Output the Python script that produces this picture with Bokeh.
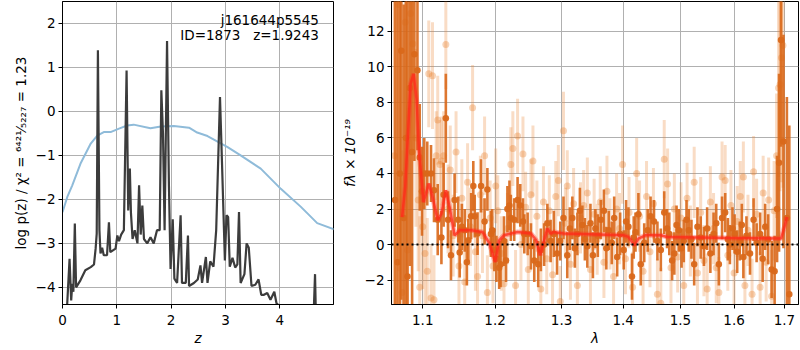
from bokeh.plotting import figure
from bokeh.layouts import row
from bokeh.models import Range1d, FixedTicker, Label, Span, PrintfTickFormatter
from bokeh.embed import file_html
from bokeh.resources import INLINE

# ---------------- left panel data: log p(z) ----------------
z_pz = [0.0, 0.086, 0.13, 0.16, 0.18, 0.20, 0.227, 0.25, 0.33, 0.42, 0.52, 0.58, 0.61, 0.63, 0.652,
        0.68, 0.70, 0.73, 0.76, 0.82, 0.855, 0.88, 0.977, 1.01, 1.04, 1.08, 1.13, 1.18, 1.21, 1.24,
        1.26, 1.29, 1.33, 1.38, 1.41, 1.44, 1.47, 1.50, 1.56, 1.62, 1.68, 1.74, 1.79, 1.82, 1.85,
        1.88, 1.925, 1.96, 1.99, 2.03, 2.06, 2.11, 2.175, 2.20, 2.27, 2.31, 2.33, 2.42, 2.49, 2.54,
        2.57, 2.64, 2.67, 2.72, 2.78, 2.83, 2.90, 2.94, 2.99, 3.02, 3.05, 3.08, 3.13, 3.18, 3.22,
        3.25, 3.28, 3.35, 3.39, 3.43, 3.48, 3.55, 3.61, 3.66, 3.71, 3.77, 3.83, 3.90, 3.94, 3.99,
        4.05, 4.60, 4.65, 4.68, 4.99]
logpz = [-6.0, -4.39, -3.35, -4.3, -3.92, -4.1, -2.55, -4.0, -3.84, -3.61, -3.54, -3.48, -3.12, -2.78, 1.39,
         -2.7, -3.23, -3.1, -3.27, -3.27, -2.52, -3.2, -3.12, -2.82, -2.95, -2.8, -2.7, 0.93, -2.25, -1.30,
         -2.3, -2.9, -2.7, -3.0, -1.68, -2.8, -2.14, -2.9, -3.0, -2.86, -3.0, -2.7, -2.7, 0.48, -0.5,
         -2.7, 1.60, -1.7, -3.58, -2.45, -3.8, -3.9, -2.36, -3.9, -3.9, -2.82, -3.97, -3.9, -3.82, -3.5,
         -3.9, -3.31, -3.9, -3.41, -3.53, -2.7, 0.33, -1.3, -3.39, -2.36, -2.4, -3.53, -3.33, -3.55, -3.48,
         -2.29, -3.9, -3.7, -3.0, -3.1, -3.97, -3.94, -3.82, -4.17, -4.17, -4.13, -4.28, -4.1, -4.36, -4.42,
         -5.5, -5.5, -3.7, -5.5, -5.5]

z_prior = [0.0, 0.087, 0.18, 0.33, 0.52, 0.64, 0.76, 0.885, 1.04, 1.19, 1.31, 1.62, 1.81, 2.05,
           2.33, 2.48, 2.67, 3.04, 3.28, 3.65, 4.02, 4.39, 4.69, 5.0]
prior = [-2.29, -1.95, -1.68, -1.19, -0.73, -0.55, -0.47, -0.47, -0.39, -0.32, -0.30, -0.38, -0.34, -0.33,
         -0.37, -0.48, -0.56, -0.81, -1.0, -1.30, -1.76, -2.17, -2.54, -2.68]

left_yticks = [-4, -3, -2, -1, 0, 1, 2]
left_xticks = [0, 1, 2, 3, 4]
title_lines = ["j161644p5545", "ID=1873\u00a0\u00a0\u00a0z=1.9243"]

# ---------------- right panel data: spectrum ----------------
dark = [
    (1.064, 2.5, 20), (1.067, -1.0, 20), (1.070, 4.0, 20), (1.072, 10.9, 14), (1.075, 1.5, 12),
    (1.078, 6.0, 14), (1.080, -1.8, 16), (1.083, 8.8, 10), (1.086, 5.2, 9), (1.089, 10.7, 6),
    (1.093, 9.8, 4.5), (1.096, 4.9, 3), (1.099, 3.0, 2.5), (1.102, 4.0, 2.0), (1.106, 4.0, 1.8),
    (1.111, 4.0, 1.6), (1.115, 3.05, 1.8), (1.120, 1.4, 2.0), (1.125, 0.4, 1.5), (1.128, 2.8, 1.8),
    (1.131, 7.1, 2.5), (1.134, 1.4, 1.6), (1.138, -0.6, 1.4), (1.143, 2.5, 1.5), (1.148, 1.4, 1.3),
    (1.150, -0.45, 1.4), (1.153, 1.0, 1.3), (1.157, 0.8, 1.2), (1.160, -1.0, 1.3), (1.162, 0.24, 1.2),
    (1.166, 1.6, 1.3), (1.169, 3.3, 1.4), (1.171, 1.6, 1.2), (1.175, 0.62, 1.2), (1.180, 3.3, 1.5),
    (1.185, 1.3, 1.3), (1.189, 3.1, 1.2), (1.194, 0.6, 1.3), (1.196, 0.8, 1.2), (1.199, -0.3, 1.2),
    (1.202, -0.8, 1.3), (1.206, -1.3, 1.2), (1.208, -1.1, 1.3), (1.213, 0.2, 1.4), (1.216, -0.9, 1.2),
    (1.218, 2.0, 1.3), (1.221, 2.2, 1.4), (1.223, 1.5, 1.3), (1.228, 1.4, 1.2), (1.233, 2.5, 1.3),
    (1.237, 2.2, 1.2), (1.241, 1.3, 1.3), (1.243, 0.6, 1.1), (1.248, 0.6, 1.2), (1.253, -0.1, 1.3),
    (1.258, -0.9, 1.2), (1.264, -1.1, 1.3), (1.268, -0.3, 1.2), (1.273, 0.0, 1.2), (1.278, 1.2, 1.1),
    (1.283, 0.2, 1.2), (1.288, 0.6, 1.3), (1.293, -0.5, 1.2), (1.298, 0.2, 1.1), (1.303, 1.5, 1.2),
    (1.309, -0.6, 1.3), (1.313, 0.9, 1.2), (1.317, 1.5, 1.2), (1.321, -0.2, 1.1), (1.325, 0.6, 1.2),
    (1.329, 1.9, 1.3), (1.333, 1.1, 1.1), (1.337, 0.3, 1.2), (1.341, -0.1, 1.2), (1.346, 1.2, 1.1),
    (1.350, -0.6, 1.3), (1.354, 0.9, 1.1), (1.358, 0.5, 1.2), (1.363, 1.4, 1.1), (1.368, 1.9, 1.2),
    (1.372, -0.2, 1.2), (1.376, 0.8, 1.1), (1.381, 0.1, 1.2), (1.385, 1.5, 1.2), (1.390, -0.7, 1.1),
    (1.395, 0.6, 1.2), (1.401, -0.3, 1.1), (1.405, 1.3, 1.2), (1.409, 1.0, 1.1), (1.415, -1.8, 1.3),
    (1.418, 0.4, 1.2), (1.421, 0.7, 1.1), (1.426, 1.7, 1.2), (1.430, -1.1, 1.2), (1.436, 0.1, 1.1),
    (1.442, 0.8, 1.2), (1.447, 1.6, 1.1), (1.453, 1.3, 1.2), (1.459, 0.2, 1.1), (1.465, -0.3, 1.2),
    (1.471, 1.8, 1.2), (1.476, 0.9, 1.1), (1.480, 0.6, 1.2), (1.485, -0.9, 1.1), (1.489, -0.5, 1.2),
    (1.493, 1.1, 1.1), (1.497, 0.8, 1.2), (1.502, -0.2, 1.1), (1.506, 0.2, 1.2), (1.511, 1.4, 1.1),
    (1.515, 0.8, 1.2), (1.520, 0.3, 1.1), (1.525, -1.1, 1.2), (1.531, 1.0, 1.1), (1.537, 0.4, 1.2),
    (1.543, -0.1, 1.1), (1.549, 0.9, 1.2), (1.555, -0.5, 1.1), (1.561, 0.6, 1.2), (1.566, 1.2, 1.1),
    (1.571, -1.1, 1.2), (1.577, 1.5, 1.2), (1.583, 1.8, 1.1), (1.588, 0.3, 1.2), (1.592, 0.0, 1.1),
    (1.597, 0.9, 1.2), (1.601, 0.6, 1.1), (1.606, -0.4, 1.2), (1.611, 0.2, 1.1), (1.615, 1.1, 1.2),
    (1.618, -0.7, 1.2), (1.624, 0.5, 1.1), (1.631, -0.5, 1.2), (1.638, 1.4, 1.2), (1.644, 0.1, 1.1),
    (1.651, 0.6, 1.2), (1.656, -0.8, 1.3), (1.661, 1.0, 1.3), (1.667, 0.3, 1.4), (1.674, -1.4, 1.6),
    (1.680, -1.5, 2.0), (1.685, 2.0, 3.0), (1.689, 4.6, 5.0), (1.693, 11.5, 6.0), (1.698, 5.8, 6.0),
    (1.705, 1.5, 6.8), (1.710, -2.8, 9.5),
]
light = [
    (1.063, 5.0, 20), (1.068, 13.5, 15), (1.073, -2.7, 8), (1.077, 12.5, 10), (1.080, -0.3, 8),
    (1.084, 13.0, 8), (1.087, 11.3, 6), (1.091, 6.0, 5), (1.094, 2.5, 4), (1.096, -2.4, 4),
    (1.100, 1.0, 3.5), (1.103, -0.5, 3), (1.106, -1.5, 3), (1.108, 9.6, 3), (1.111, -3.0, 3),
    (1.113, 9.5, 3), (1.115, -3.1, 2.5), (1.118, 5.0, 2.5), (1.120, 7.0, 2.5), (1.123, 4.5, 2.5),
    (1.125, 4.7, 2.5), (1.128, 5.0, 2.5), (1.131, 11.25, 2.5), (1.134, 2.0, 2.5), (1.137, 4.2, 2.5),
    (1.141, 0.5, 2.3), (1.145, 5.2, 2.3), (1.149, -1.2, 2.2), (1.153, 2.6, 2.2), (1.157, -2.1, 2.2),
    (1.161, 3.5, 2.2), (1.165, 1.0, 2.2), (1.168, 7.7, 2.4), (1.172, -0.4, 2.2), (1.175, -1.8, 2.2),
    (1.179, 2.8, 2.2), (1.182, 0.5, 2.1), (1.185, 5.0, 2.2), (1.189, -2.7, 2.1), (1.193, 1.5, 2.1),
    (1.197, -1.2, 2.1), (1.201, 3.3, 2.1), (1.204, 1.9, 2.0), (1.209, -0.5, 2.1), (1.213, -2.2, 2.1),
    (1.218, 0.9, 2.0), (1.223, 4.5, 2.1), (1.226, 5.4, 2.1), (1.230, -2.3, 2.0), (1.233, 6.1, 2.1),
    (1.238, 0.0, 2.0), (1.241, 5.1, 2.1), (1.245, 2.1, 2.0), (1.249, -1.4, 2.0), (1.253, 2.8, 2.0),
    (1.256, 4.7, 2.0), (1.262, 1.6, 2.0), (1.268, -2.5, 2.0), (1.272, 2.4, 2.0), (1.277, -0.8, 2.0),
    (1.281, 1.9, 2.0), (1.286, -1.7, 2.0), (1.291, 2.7, 2.0), (1.295, 3.6, 2.0), (1.298, -3.2, 2.0),
    (1.303, 6.4, 2.2), (1.306, 1.2, 2.0), (1.309, 3.3, 2.0), (1.314, -1.1, 2.0), (1.319, 2.3, 2.0),
    (1.325, -2.3, 2.0), (1.330, 1.5, 2.0), (1.335, 2.2, 2.0), (1.341, 2.9, 2.0), (1.346, -1.4, 2.0),
    (1.352, 1.7, 2.0), (1.357, 0.3, 2.0), (1.362, 2.4, 2.0), (1.368, -1.0, 2.0), (1.373, 3.0, 2.0),
    (1.378, 0.6, 2.0), (1.384, -1.8, 2.0), (1.389, 2.0, 2.0), (1.394, 0.9, 2.0), (1.399, 4.5, 2.2),
    (1.404, -0.8, 2.0), (1.410, 1.8, 2.0), (1.416, -2.4, 2.0), (1.423, 4.0, 2.0), (1.428, 1.6, 2.0),
    (1.434, -1.5, 2.0), (1.440, 2.7, 2.0), (1.446, -0.4, 2.0), (1.452, 2.3, 2.0), (1.459, -2.8, 2.0),
    (1.465, -3.3, 2.0), (1.471, 4.8, 2.2), (1.477, 3.4, 2.0), (1.483, -1.3, 2.0), (1.489, 2.0, 2.0),
    (1.495, -0.7, 2.0), (1.501, 1.5, 2.0), (1.506, -2.3, 2.0), (1.512, 2.6, 2.0), (1.518, 0.2, 2.0),
    (1.525, 3.5, 2.0), (1.531, -1.6, 2.0), (1.537, 1.8, 2.0), (1.543, -0.9, 2.0), (1.549, -2.5, 2.0),
    (1.555, 2.4, 2.0), (1.561, 0.9, 2.0), (1.566, -1.3, 2.0), (1.571, -2.7, 2.0), (1.577, 3.8, 2.0),
    (1.583, 3.6, 2.0), (1.588, -0.6, 2.0), (1.594, 2.2, 2.0), (1.600, -1.6, 2.0), (1.606, 1.3, 2.0),
    (1.612, 2.7, 2.0), (1.618, 3.8, 2.0), (1.621, -2.3, 2.0), (1.627, 0.8, 2.0), (1.635, -2.8, 2.0),
    (1.638, 4.1, 2.0), (1.644, 1.7, 2.0), (1.651, -2.4, 2.0), (1.657, 2.9, 2.1), (1.663, -1.0, 2.2),
    (1.668, 2.5, 2.4), (1.674, -2.9, 2.6), (1.679, 1.9, 2.8), (1.684, 5.0, 3.5), (1.688, 8.8, 5),
    (1.691, 9.0, 6), (1.694, 10.5, 7), (1.697, 11.2, 8),
]
lam_model = [1.073, 1.077, 1.084, 1.088, 1.092, 1.095, 1.101, 1.108, 1.113, 1.120, 1.125, 1.131,
             1.136, 1.143, 1.150, 1.166, 1.182, 1.192, 1.200, 1.206, 1.213, 1.233, 1.253, 1.261,
             1.267, 1.273, 1.278, 1.283, 1.288, 1.303, 1.401, 1.409, 1.419, 1.426, 1.438, 1.465,
             1.476, 1.592, 1.693, 1.700, 1.705]
f_model = [1.55, 3.24, 9.04, 9.6, 8.1, 5.3, 2.39, 3.43, 2.67, 1.37, 1.74, 3.05,
           2.11, 0.52, 0.80, 0.80, 0.71, 0.06, -0.98, 0.24, 0.52, 0.71, 0.62, 0.24,
           -0.6, 0.24, 0.9, 0.62, 0.71, 0.62, 0.52, 0.43, -0.04, 0.34, 0.52, 0.52,
           0.43, 0.37, 0.34, 0.99, 1.55]

right_xticks = [1.1, 1.2, 1.3, 1.4, 1.5, 1.6, 1.7]
right_yticks = [-2, 0, 2, 4, 6, 8, 10, 12]
timestamp = "Sat Apr 25 12:55:58 2020"

# ---------------- styling helpers ----------------
FONT = "DejaVu Sans"
TICK = "13.5px"
GRID = "#b0b0b0"


def minus(v):
    s = ("%g" % v)
    return s.replace("-", "\u2212")


def style(p):
    p.outline_line_color = "black"
    p.outline_line_width = 1
    p.outline_line_alpha = 1
    p.background_fill_color = "white"
    p.border_fill_color = "white"
    p.grid.grid_line_color = GRID
    p.grid.grid_line_width = 1
    p.grid.grid_line_alpha = 1
    for ax in (p.xaxis[0], p.yaxis[0]):
        ax.axis_line_color = "black"
        ax.major_tick_line_color = "black"
        ax.major_tick_out = 4
        ax.major_tick_in = 0
        ax.minor_tick_out = 0
        ax.minor_tick_in = 0
        ax.major_label_text_font = FONT
        ax.major_label_text_font_size = TICK
        ax.major_label_text_color = "black"
        ax.axis_label_text_font = FONT
        ax.axis_label_text_font_size = "13.5px"
        ax.axis_label_text_color = "black"
        ax.axis_label_standoff = 4
        ax.major_label_standoff = 3
    p.xaxis[0].major_label_standoff = 6
    p.xaxis[0].axis_label_standoff = 2


H = 349
# ---------------- left figure ----------------
p1 = figure(width=338, height=H, output_backend="svg", toolbar_location=None,
            x_range=Range1d(0, 4.99), y_range=Range1d(-4.39, 2.5),
            min_border_left=62, min_border_right=5, min_border_top=1, min_border_bottom=45)
style(p1)
p1.xaxis[0].ticker = FixedTicker(ticks=left_xticks, minor_ticks=[])
p1.yaxis[0].ticker = FixedTicker(ticks=left_yticks, minor_ticks=[])
p1.xaxis[0].major_label_overrides = {t: minus(t) for t in left_xticks}
p1.yaxis[0].major_label_overrides = {t: minus(t) for t in left_yticks}
p1.xaxis[0].axis_label = "z"
p1.xaxis[0].axis_label_text_font_style = "italic"
p1.yaxis[0].axis_label = "log p(z) / \u03c7\u00b2 = \u2076\u2074\u00b2\u00b9\u2044\u2085\u2082\u2082\u2087 = 1.23"
p1.yaxis[0].axis_label_text_font_style = "normal"

p1.line(z_prior, prior, line_color="#8fbbd9", line_width=2)
p1.line(z_pz, logpz, line_color="#3c3c3c", line_width=2.2)

p1.add_layout(Label(x=4.72, y=2.07, text=title_lines[0], text_align="right", text_baseline="middle",
                    text_font=FONT, text_font_size="13.5px", text_color="black"))
p1.add_layout(Label(x=4.72, y=1.73, text=title_lines[1], text_align="right", text_baseline="middle",
                    text_font=FONT, text_font_size="13.5px", text_color="black"))

# ---------------- right figure ----------------
p2 = figure(width=461, height=H, output_backend="svg", toolbar_location=None,
            x_axis_type="log", x_range=Range1d(1.0594, 1.729), y_range=Range1d(-3.37, 13.67),
            min_border_left=53, min_border_right=1, min_border_top=1, min_border_bottom=45)
style(p2)
p2.xaxis[0].ticker = FixedTicker(ticks=right_xticks, minor_ticks=[])
p2.xaxis[0].formatter = PrintfTickFormatter(format="%.1f")
p2.yaxis[0].ticker = FixedTicker(ticks=right_yticks, minor_ticks=[])
p2.yaxis[0].major_label_overrides = {t: minus(t) for t in right_yticks}
p2.xaxis[0].axis_label = "\u03bb"
p2.xaxis[0].axis_label_text_font_style = "italic"
p2.yaxis[0].axis_label = "f\u03bb \u00d7 10\u207b\u00b9\u2079"

ORANGE = "#d9681a"
LIGHT = "#e8822e"

ll = [d[0] for d in light]
lf = [d[1] for d in light]
le = [d[2] for d in light]
p2.segment(x0=ll, y0=[f - e for f, e in zip(lf, le)], x1=ll, y1=[f + e for f, e in zip(lf, le)],
           line_color=LIGHT, line_alpha=0.28, line_width=3)
p2.scatter(ll, lf, size=7, fill_color=LIGHT, fill_alpha=0.35, line_alpha=0)

dl = [d[0] for d in dark]
df = [d[1] for d in dark]
de = [d[2] for d in dark]
p2.segment(x0=dl, y0=[f - e for f, e in zip(df, de)], x1=dl, y1=[f + e for f, e in zip(df, de)],
           line_color=ORANGE, line_alpha=0.9, line_width=2.6)
p2.scatter(dl, df, size=6.5, fill_color=ORANGE, fill_alpha=0.95, line_alpha=0)

p2.line(lam_model, f_model, line_color="#ff3020", line_alpha=0.35, line_width=5)
p2.line(lam_model, f_model, line_color="#ff2a1a", line_alpha=0.75, line_width=2.5)

p2.add_layout(Span(location=0, dimension="width", line_color="black", line_width=2, line_dash="2 3"))

p2.add_layout(Label(x=1.708, y=-5.32, text=timestamp, text_align="right", text_baseline="middle",
                    text_font=FONT, text_font_size="7px", text_color="black"))

layout = row(p1, p2)
open("out.html", "w").write(file_html(layout, INLINE))
